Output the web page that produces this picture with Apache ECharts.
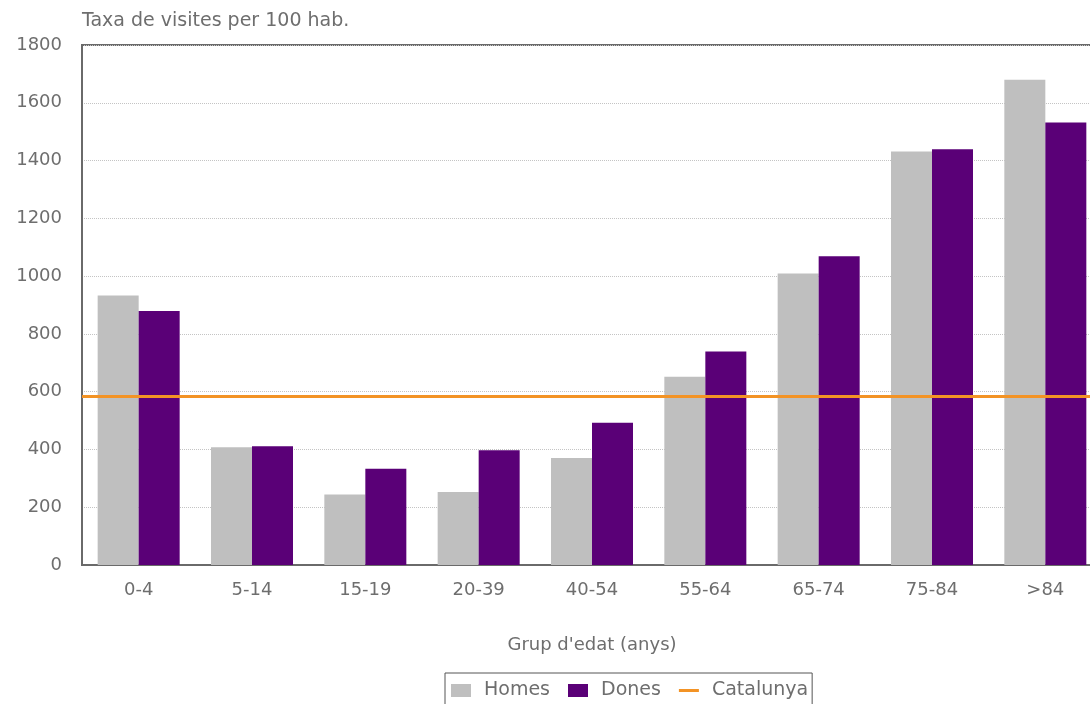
<!DOCTYPE html>
<html>
<head>
<meta charset="utf-8">
<script src="https://cdn.jsdelivr.net/npm/echarts@6/dist/echarts.min.js"></script>
<style>
  html, body { margin: 0; padding: 0; background: #fff; overflow: hidden; }
  /* the plot runs a little past the right edge of the picture */
  #chart { width: 1102px; height: 704px; }
</style>
</head>
<body>
<div id="chart"></div>
<script>
  // grups d'edat
  const categories = ['0-4', '5-14', '15-19', '20-39', '40-54', '55-64', '65-74', '75-84', '>84']
  const homes = [933, 408, 244, 253, 370, 652, 1009, 1431, 1680]
  const dones = [879, 411, 333, 397, 492, 739, 1069, 1439, 1532]
  const catalunya = 584
  const yTicks = [0, 200, 400, 600, 800, 1000, 1200, 1400, 1600, 1800]

  const chart = echarts.init(document.getElementById('chart'))
  const font = 'DejaVu Sans, Verdana, sans-serif'
  const textGray = '#6e6e6e'

  chart.setOption({
    animation: false,
    textStyle: { fontFamily: font },
    title: {
      text: 'Taxa de visites per 100 hab.',
      left: 77,
      top: 7,
      textStyle: { fontSize: 19, fontWeight: 'normal', color: textGray, fontFamily: font }
    },
    grid: {
      left: 82,
      top: 45,
      right: 0,
      height: 520,
      show: true,
      borderColor: '#6a6a6a',
      borderWidth: 2,
      backgroundColor: 'transparent'
    },
    legend: {
      left: 445,
      top: 673,
      data: [
        { name: 'Homes', icon: 'rect' },
        { name: 'Dones', icon: 'rect' },
        { name: 'Catalunya', icon: 'path://M0,6 L10,6 L10,7.5 L0,7.5 Z' }
      ],
      itemWidth: 20,
      itemHeight: 13,
      itemGap: 18,
      padding: [8, 4, 10, 6],
      borderColor: '#555',
      borderWidth: 1,
      textStyle: { fontSize: 19, color: textGray, fontFamily: font, padding: [0, 0, 0, 8] }
    },
    xAxis: {
      type: 'category',
      data: categories,
      axisTick: { show: false },
      axisLine: { lineStyle: { color: '#6a6a6a', width: 2 } },
      axisLabel: { color: textGray, fontSize: 18, margin: 16 },
      name: "Grup d'edat (anys)",
      nameLocation: 'middle',
      nameGap: 71,
      nameTextStyle: { color: textGray, fontSize: 18 }
    },
    yAxis: {
      type: 'value',
      min: yTicks[0],
      max: yTicks[yTicks.length - 1],
      interval: 200,
      axisLine: { show: true, lineStyle: { color: '#6a6a6a', width: 2 } },
      axisTick: { show: false },
      axisLabel: { color: textGray, fontSize: 18, margin: 20, formatter: v => String(v) },
      splitLine: { lineStyle: { color: '#c4c4c4', type: 'dotted', width: 1 } }
    },
    series: [
      {
        name: 'Homes',
        type: 'bar',
        data: homes,
        barWidth: 41,
        barGap: '0%',
        itemStyle: { color: '#bfbfbf' }
      },
      {
        name: 'Dones',
        type: 'bar',
        data: dones,
        barWidth: 41,
        itemStyle: { color: '#5a0077' }
      },
      {
        name: 'Catalunya',
        type: 'line',
        data: [],
        itemStyle: { color: '#f39325' },
        lineStyle: { color: '#f39325' },
        markLine: {
          silent: true,
          symbol: 'none',
          label: { show: false },
          lineStyle: { color: '#f39325', width: 3, type: 'solid' },
          data: [{ yAxis: catalunya }]
        }
      }
    ]
  })
</script>
</body>
</html>
